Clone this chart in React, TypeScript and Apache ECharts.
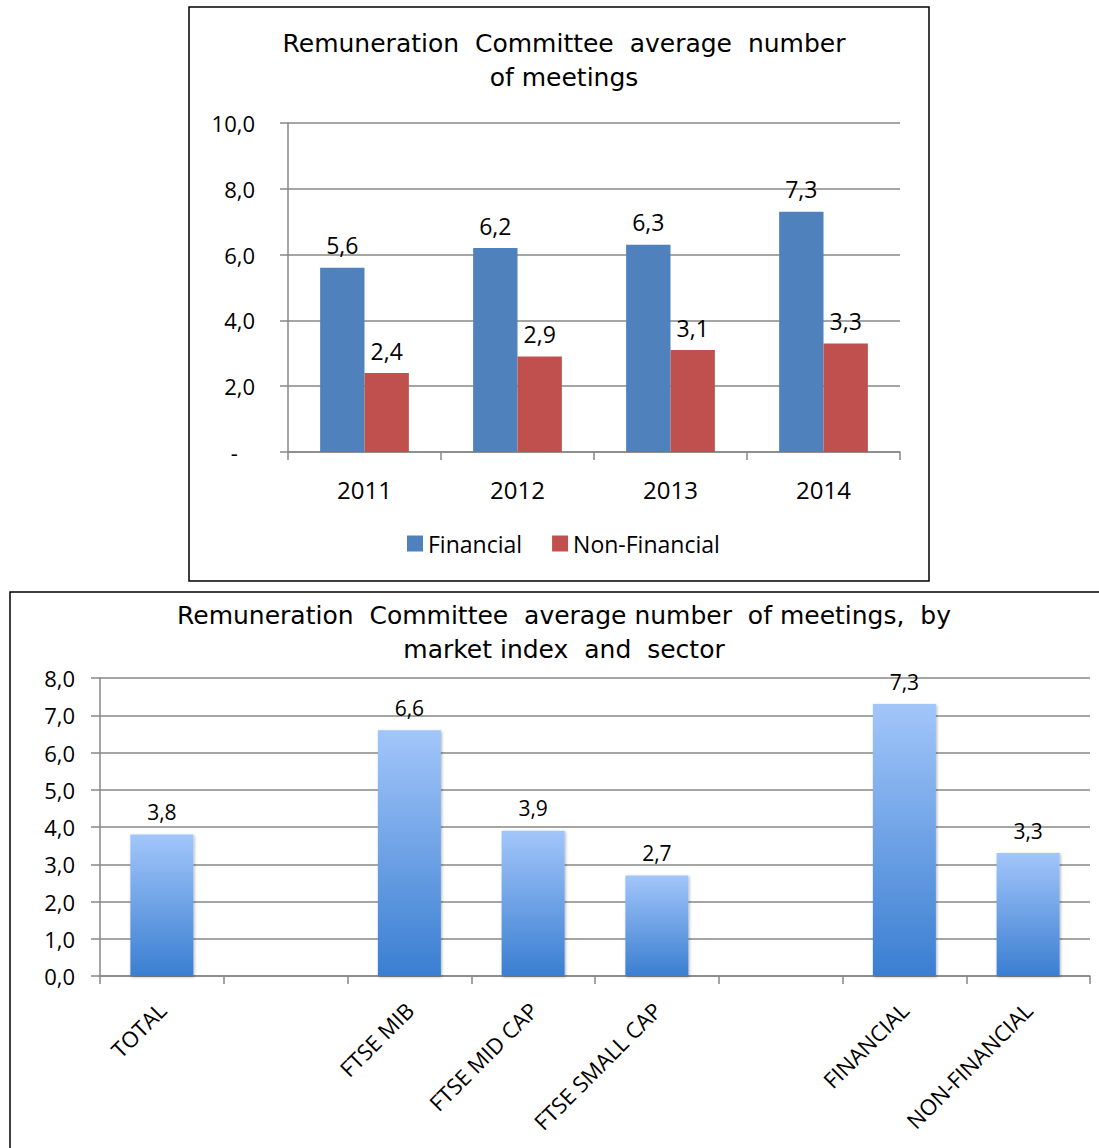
import React, { useEffect, useRef } from "react";
import * as echarts from "echarts";

const topTitle = "Remuneration  Committee  average  number\nof meetings";
const years = ["2011", "2012", "2013", "2014"];
const financial = [5.6, 6.2, 6.3, 7.3];
const nonFinancial = [2.4, 2.9, 3.1, 3.3];
const topYTicks = { min: 0, max: 10, interval: 2 };

const bottomTitle = "Remuneration  Committee  average number  of meetings,  by\nmarket index  and  sector";
const bottomCategories = ["TOTAL", "", "FTSE MIB", "FTSE MID CAP", "FTSE SMALL CAP", "", "FINANCIAL", "NON-FINANCIAL"];
const bottomValues: (number | null)[] = [3.8, null, 6.6, 3.9, 2.7, null, 7.3, 3.3];
const bottomYTicks = { min: 0, max: 8, interval: 1 };

const fmt = (v: number) => v.toFixed(1).replace(".", ",");
const labelFont = "'Open Sans', 'Noto Sans', sans-serif";
const titleFont = "'DejaVu Sans', Verdana, sans-serif";
const gridColor = "#878787";

export default function App() {
  const ref = useRef<HTMLDivElement>(null);
  useEffect(() => {
    if (!ref.current) return;
    const chart = echarts.init(ref.current, undefined, { renderer: "svg" });
    const makeLabel = (size: number, distance: number) => ({
      show: true,
      position: "top",
      distance,
      fontFamily: labelFont,
      fontSize: size,
      color: "#000",
      formatter: (p: any) => (p.value == null ? "" : fmt(p.value)),
    });
    chart.setOption({
      animation: false,
      backgroundColor: "#fff",
      title: [
        {
          text: topTitle,
          left: 559,
          top: 21,
          textAlign: "center",
          textStyle: { fontFamily: titleFont, fontSize: 25, fontWeight: "normal", lineHeight: 34, color: "#000" },
        },
        {
          text: bottomTitle,
          left: 559,
          top: 593,
          textAlign: "center",
          textStyle: { fontFamily: titleFont, fontSize: 25, fontWeight: "normal", lineHeight: 34, color: "#000" },
        },
      ],
      legend: {
        data: ["Financial", "Non-Financial"],
        left: 402,
        top: 527,
        itemWidth: 16,
        itemHeight: 16,
        itemGap: 30,
        icon: "rect",
        textStyle: { fontFamily: labelFont, fontSize: 23, color: "#000" },
      },
      grid: [
        { left: 288, top: 123, width: 612, height: 329 },
        { left: 100, top: 678, width: 990, height: 298 },
      ],
      xAxis: [
        {
          type: "category",
          gridIndex: 0,
          data: years,
          axisLine: { lineStyle: { color: gridColor, width: 1.5 } },
          axisTick: { show: true, length: 8, lineStyle: { color: gridColor, width: 1.5 } },
          axisLabel: { margin: 25, fontFamily: labelFont, fontSize: 24, color: "#000" },
        },
        {
          type: "category",
          gridIndex: 1,
          data: bottomCategories,
          axisLine: { lineStyle: { color: gridColor, width: 1.5 } },
          axisTick: { show: true, length: 8, interval: 0, lineStyle: { color: gridColor, width: 1.5 } },
          axisLabel: { interval: 0, rotate: 45, margin: 30, fontFamily: labelFont, fontSize: 22, color: "#000" },
        },
      ],
      yAxis: [
        {
          type: "value",
          gridIndex: 0,
          ...topYTicks,
          axisLine: { show: true, lineStyle: { color: gridColor, width: 1.5 } },
          axisTick: { show: true, length: 8, lineStyle: { color: gridColor, width: 1.5 } },
          splitLine: { lineStyle: { color: gridColor, width: 1.5 } },
          axisLabel: {
            margin: 33,
            fontFamily: labelFont,
            fontSize: 22,
            color: "#000",
            formatter: (v: number) => (v === 0 ? "-   " : fmt(v)),
          },
        },
        {
          type: "value",
          gridIndex: 1,
          ...bottomYTicks,
          axisLine: { show: true, lineStyle: { color: gridColor, width: 1.5 } },
          axisTick: { show: true, length: 9, lineStyle: { color: gridColor, width: 1.5 } },
          splitLine: { lineStyle: { color: gridColor, width: 1.5 } },
          axisLabel: { margin: 25, fontFamily: labelFont, fontSize: 22, color: "#000", formatter: (v: number) => fmt(v) },
        },
      ],
      series: [
        {
          name: "Financial",
          type: "bar",
          xAxisIndex: 0,
          yAxisIndex: 0,
          data: financial,
          barGap: "0%",
          barCategoryGap: "42%",
          itemStyle: { color: "#4F81BD" },
          label: makeLabel(23, 11),
        },
        {
          name: "Non-Financial",
          type: "bar",
          xAxisIndex: 0,
          yAxisIndex: 0,
          data: nonFinancial,
          barGap: "0%",
          barCategoryGap: "42%",
          itemStyle: { color: "#C0504D" },
          label: makeLabel(23, 11),
        },
        {
          name: "Bottom",
          type: "bar",
          xAxisIndex: 1,
          yAxisIndex: 1,
          data: bottomValues,
          barWidth: 63,
          itemStyle: {
            color: new echarts.graphic.LinearGradient(0, 0, 0, 1, [
              { offset: 0, color: "#A2C6FA" },
              { offset: 1, color: "#3A7ED1" },
            ]),
            shadowBlur: 3,
            shadowOffsetX: 1,
            shadowOffsetY: 1,
            shadowColor: "rgba(0,0,0,0.3)",
          },
          label: makeLabel(21, 12),
        },
      ],
      graphic: [
        {
          type: "rect",
          shape: { x: 189, y: 7, width: 740, height: 574 },
          style: { fill: "none", stroke: "#000", lineWidth: 1.5 },
          silent: true,
        },
        {
          type: "rect",
          shape: { x: 10, y: 592, width: 1200, height: 700 },
          style: { fill: "none", stroke: "#000", lineWidth: 1.5 },
          silent: true,
        },
      ],
    });
    return () => chart.dispose();
  }, []);
  return (
    <div style={{ position: "absolute", left: 0, top: 0, width: 1099, height: 1148, overflow: "hidden" }}>
      <div ref={ref} style={{ width: 1099, height: 1148 }} />
    </div>
  );
}
